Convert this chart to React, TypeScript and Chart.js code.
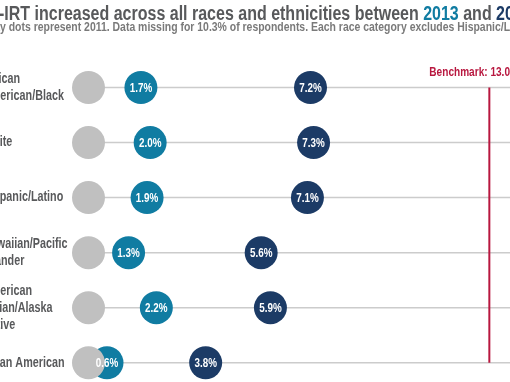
import React, { useEffect, useRef } from "react";
import { Chart, registerables } from "chart.js";

Chart.register(...registerables);

const categories: string[][] = [
  ["African", "American/Black"],
  ["White"],
  ["Hispanic/Latino"],
  ["Hawaiian/Pacific", "Islander"],
  ["American", "Indian/Alaska", "Native"],
  ["Asian American"],
];
const values2011 = [0, 0, 0, 0, 0, 0];
const values2013 = [1.7, 2.0, 1.9, 1.3, 2.2, 0.6];
const values2015 = [7.2, 7.3, 7.1, 5.6, 5.9, 3.8];
const benchmark = 13.0;
const benchmarkLabel = "Benchmark: 13.0%";

const FONT = '"Liberation Sans", Arial, sans-serif';
const GRAY = "#c0c0c0";
const TEAL = "#107ca2";
const NAVY = "#1c3b66";
const RED = "#b8173f";
const TEXT = "#58595b";

function drawCondensed(ctx: CanvasRenderingContext2D, text: string, x: number, y: number, sx: number) {
  ctx.save();
  ctx.translate(x, y);
  ctx.scale(sx, 1);
  ctx.fillText(text, 0, 0);
  ctx.restore();
}

const overlayPlugin = {
  id: "overlay",
  beforeDatasetsDraw(chart: any) {
    const { ctx, chartArea, scales } = chart;
    const xs = scales.x;
    const ys = scales.y;
    ctx.save();
    // row lines
    ctx.strokeStyle = "#cccccc";
    ctx.lineWidth = 1.5;
    categories.forEach((_, i) => {
      const y = ys.getPixelForValue(i);
      ctx.beginPath();
      ctx.moveTo(xs.getPixelForValue(values2011[i]), y);
      ctx.lineTo(chartArea.right, y);
      ctx.stroke();
    });
    // benchmark line
    const bx = xs.getPixelForValue(benchmark);
    ctx.strokeStyle = RED;
    ctx.lineWidth = 2;
    ctx.beginPath();
    ctx.moveTo(bx, ys.getPixelForValue(0));
    ctx.lineTo(bx, ys.getPixelForValue(categories.length - 1));
    ctx.stroke();
    ctx.fillStyle = RED;
    ctx.font = `bold 12px ${FONT}`;
    ctx.textAlign = "left";
    ctx.textBaseline = "alphabetic";
    drawCondensed(ctx, benchmarkLabel, bx - 60, ys.getPixelForValue(0) - 12, 0.84);
    // category labels
    ctx.fillStyle = TEXT;
    ctx.font = `bold 14px ${FONT}`;
    ctx.textBaseline = "middle";
    const lh = 17;
    categories.forEach((lines, i) => {
      const y = ys.getPixelForValue(i);
      lines.forEach((line, j) => {
        const ly = y + (j - (lines.length - 1) / 2) * lh;
        drawCondensed(ctx, line, -17, ly, 0.77);
      });
    });
    ctx.restore();
  },
  afterDatasetsDraw(chart: any) {
    const { ctx } = chart;
    ctx.save();
    ctx.fillStyle = "#ffffff";
    ctx.font = `bold 12px ${FONT}`;
    ctx.textAlign = "center";
    ctx.textBaseline = "middle";
    [1, 2].forEach((di) => {
      const meta = chart.getDatasetMeta(di);
      const vals = di === 1 ? values2013 : values2015;
      meta.data.forEach((pt: any, i: number) => {
        drawCondensed(ctx, vals[i].toFixed(1) + "%", pt.x, pt.y + 1, 0.82);
      });
    });
    ctx.restore();
  },
};

export default function App() {
  const ref = useRef<HTMLCanvasElement>(null);
  useEffect(() => {
    if (!ref.current) return;
    const mk = (vals: number[]) => vals.map((v, i) => ({ x: v, y: i }));
    const chart = new Chart(ref.current, {
      type: "scatter",
      data: {
        datasets: [
          { label: "2011", data: mk(values2011), backgroundColor: GRAY, borderWidth: 0, pointRadius: 16.5, pointHoverRadius: 16.5 },
          { label: "2013", data: mk(values2013), backgroundColor: TEAL, borderWidth: 0, pointRadius: 16.5, pointHoverRadius: 16.5 },
          { label: "2015", data: mk(values2015), backgroundColor: NAVY, borderWidth: 0, pointRadius: 16.5, pointHoverRadius: 16.5 },
        ],
      },
      options: {
        animation: false,
        responsive: false,
        devicePixelRatio: 1,
        layout: { autoPadding: false, padding: { top: 60, left: 0, right: 0, bottom: 0 } },
        plugins: { legend: { display: false }, tooltip: { enabled: false } },
        events: [],
        scales: {
          x: { type: "linear", display: false, min: -2.87, max: 13.67 },
          y: { type: "linear", display: false, reverse: true, min: -0.5, max: 5.35 },
        },
      },
      plugins: [overlayPlugin],
    });
    return () => chart.destroy();
  }, []);

  return (
    <div style={{ position: "fixed", left: 0, top: 0, width: 510, height: 382, overflow: "hidden", background: "#fff" }}>
      <canvas ref={ref} width={510} height={382} style={{ position: "absolute", left: 0, top: 0, width: 510, height: 382 }} />
      <div style={{ position: "absolute", left: -1, top: 3, whiteSpace: "nowrap", fontFamily: FONT, fontWeight: "bold", fontSize: 20, lineHeight: "21px", color: TEXT, transform: "scaleX(0.80)", transformOrigin: "0 0" }}>
        -IRT increased across all races and ethnicities between <span style={{ color: TEAL }}>2013</span> and <span style={{ color: NAVY }}>2015</span>
      </div>
      <div style={{ position: "absolute", left: -18, top: 20, whiteSpace: "nowrap", fontFamily: FONT, fontWeight: "bold", fontSize: 12, lineHeight: "14px", color: "#7a7a7a", transform: "scaleX(0.87)", transformOrigin: "0 0" }}>
        Gray dots represent 2011. Data missing for 10.3% of respondents. Each race category excludes Hispanic/Latino.
      </div>
    </div>
  );
}
